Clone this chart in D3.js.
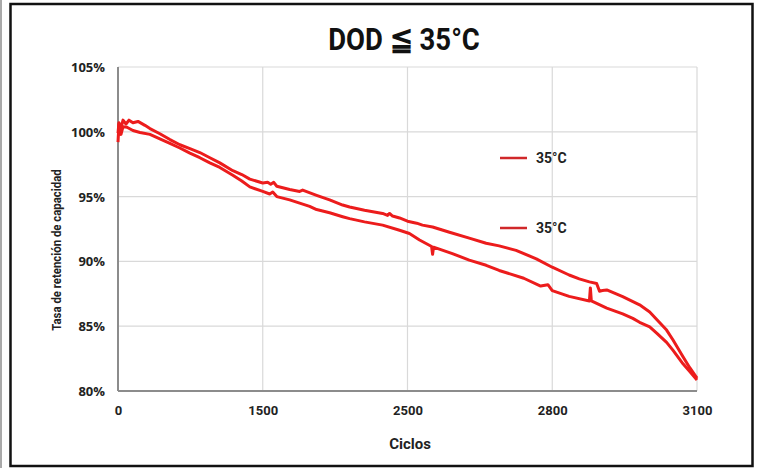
<!DOCTYPE html>
<html>
<head>
<meta charset="utf-8">
<script src="https://cdn.jsdelivr.net/npm/d3@7"></script>
<style>
  body { margin: 0; background: #fff; }
  svg { display: block; }
  .tick line { display: none; }
  .domain { display: none; }
</style>
</head>
<body>
<svg></svg>
<script>
var width = 757,
    height = 468;

var xTicks = [0, 1500, 2500, 2800, 3100];
var yTicks = [80, 85, 90, 95, 100, 105];
var legendLabels = ["35°C", "35°C"];

// cycles, capacity retention (%)
var upperCycles = [0, 10, 31, 52, 83, 114, 155, 207, 279, 331, 434, 538, 641, 745, 848, 952, 1055, 1190, 1283, 1366,
    1500, 1534, 1555, 1576, 1597, 1686, 1755, 1776, 1872, 1962, 2052, 2100, 2203, 2328, 2362, 2376, 2397, 2445,
    2500, 2519, 2531, 2552, 2587, 2628, 2663, 2690, 2725, 2767,
    2800, 2835, 2856, 2877, 2892, 2898, 2904, 2913, 2946, 2981, 3002, 3017, 3037, 3050, 3071, 3085, 3100];
var upperValues = [99.9, 100.7, 100.3, 100.9, 100.6, 100.9, 100.7, 100.8, 100.5, 100.25, 99.85, 99.4, 99.0, 98.7, 98.4, 98.0, 97.6, 97.0, 96.7, 96.35,
    96.05, 96.1, 95.95, 96.1, 95.8, 95.55, 95.4, 95.5, 95.1, 94.75, 94.35, 94.2, 93.95, 93.7, 93.55, 93.7, 93.5, 93.35,
    93.1, 92.95, 92.8, 92.65, 92.25, 91.8, 91.4, 91.2, 90.85, 90.2,
    89.55, 88.95, 88.65, 88.42, 88.3, 87.7, 87.75, 87.8, 87.28, 86.65, 86.1, 85.5, 84.7, 83.95, 82.65, 81.8, 81.0];

var lowerCycles = [0, 10, 31, 52, 93, 155, 228, 331, 434, 538, 641, 745, 848, 952, 1055, 1190, 1283, 1366,
    1500, 1548, 1569, 1597, 1686, 1755, 1824, 1872, 1962, 2052, 2100, 2203, 2328, 2445,
    2504, 2525, 2550, 2552, 2554, 2593, 2628, 2663, 2690, 2741, 2776, 2791,
    2800, 2835, 2877, 2879, 2881, 2913, 2946, 2967, 2981, 3002, 3017, 3037, 3050, 3071, 3085, 3100];
var lowerValues = [99.2, 100.6, 99.8, 100.4, 100.35, 100.1, 99.95, 99.8, 99.45, 99.1, 98.75, 98.35, 98.0, 97.6, 97.25, 96.65, 96.2, 95.75,
    95.4, 95.2, 95.35, 95.0, 94.75, 94.5, 94.25, 94.0, 93.75, 93.45, 93.3, 93.05, 92.8, 92.4,
    92.15, 91.65, 91.15, 90.55, 91.1, 90.6, 90.1, 89.7, 89.3, 88.7, 88.1, 88.2,
    87.75, 87.3, 86.95, 87.95, 86.95, 86.4, 85.95, 85.6, 85.3, 84.95, 84.45, 83.75, 83.15, 82.1, 81.5, 80.85];

var margin = { left: 118, right: 60, top: 67, bottom: 77 };
var plotW = width - margin.left - margin.right,
    plotH = height - margin.top - margin.bottom;

var svg = d3.select("svg")
    .attr("width", width)
    .attr("height", height);

// outer frame
svg.append("line")
    .attr("x1", 1).attr("x2", 1).attr("y1", 0).attr("y2", height)
    .attr("stroke", "#555").attr("stroke-width", 1);
svg.append("rect")
    .attr("x", 10.5).attr("y", 4)
    .attr("width", 742).attr("height", 462)
    .attr("fill", "none")
    .attr("stroke", "#111")
    .attr("stroke-width", 2.5);

// ticks are evenly spaced on the picture, so the x scale is piecewise
var x = d3.scaleLinear()
    .domain(xTicks)
    .range(xTicks.map((d, i) => margin.left + i * plotW / (xTicks.length - 1)));

var y = d3.scaleLinear()
    .domain([80, 105])
    .range([margin.top + plotH, margin.top]);

// grid
svg.append("g")
    .selectAll("line")
    .data(yTicks)
    .enter().append("line")
    .attr("x1", margin.left).attr("x2", margin.left + plotW)
    .attr("y1", d => y(d)).attr("y2", d => y(d))
    .attr("stroke", "#d9d9d9").attr("stroke-width", 1.2);

svg.append("g")
    .selectAll("line")
    .data(xTicks.slice(1))
    .enter().append("line")
    .attr("x1", d => x(d)).attr("x2", d => x(d))
    .attr("y1", margin.top).attr("y2", margin.top + plotH)
    .attr("stroke", "#d9d9d9").attr("stroke-width", 1.2);

// axis lines
svg.append("line")
    .attr("x1", margin.left).attr("x2", margin.left)
    .attr("y1", margin.top).attr("y2", margin.top + plotH)
    .attr("stroke", "#8c8c8c").attr("stroke-width", 2);
svg.append("line")
    .attr("x1", margin.left).attr("x2", margin.left + plotW)
    .attr("y1", margin.top + plotH).attr("y2", margin.top + plotH)
    .attr("stroke", "#8c8c8c").attr("stroke-width", 2);

// y axis labels
svg.append("g")
    .attr("transform", "translate(" + (margin.left - 10) + ",0)")
    .call(d3.axisLeft(y).tickValues(yTicks).tickSize(0).tickFormat(d => d + "%"))
    .call(g => g.selectAll("text")
        .attr("font-family", "'Open Sans', sans-serif")
        .attr("font-weight", "bold")
        .attr("font-size", 13)
        .attr("fill", "#222")
        .attr("dy", "0.35em"));

// x axis labels
svg.append("g")
    .attr("transform", "translate(0," + (margin.top + plotH + 12) + ")")
    .call(d3.axisBottom(x).tickValues(xTicks).tickSize(0).tickFormat(d3.format("d")))
    .call(g => g.selectAll("text")
        .attr("font-family", "Roboto, sans-serif")
        .attr("font-weight", "bold")
        .attr("font-size", 13)
        .attr("fill", "#222"));

// titles (condensed look by squeezing horizontally)
svg.append("text")
    .attr("transform", "translate(404,50) scale(0.86,1)")
    .attr("text-anchor", "middle")
    .attr("font-family", "Roboto, sans-serif")
    .attr("font-weight", "bold")
    .attr("font-size", 32)
    .attr("fill", "#111")
    .text("DOD ≦ 35°C");

svg.append("text")
    .attr("x", 410).attr("y", 449)
    .attr("text-anchor", "middle")
    .attr("font-family", "Roboto, sans-serif")
    .attr("font-weight", "bold")
    .attr("font-size", 15)
    .attr("fill", "#222")
    .text("Ciclos");

svg.append("text")
    .attr("transform", "translate(61,250) rotate(-90) scale(0.95,1)")
    .attr("text-anchor", "middle")
    .attr("font-family", "Roboto, sans-serif")
    .attr("font-weight", "bold")
    .attr("font-size", 12)
    .attr("fill", "#222")
    .text("Tasa de retención de capacidad");

// series
var line = d3.line()
    .x(d => x(d[0]))
    .y(d => y(d[1]));

var series = [
    d3.zip(upperCycles, upperValues),
    d3.zip(lowerCycles, lowerValues)
];

svg.append("g")
    .selectAll("path")
    .data(series)
    .enter().append("path")
    .attr("d", line)
    .attr("fill", "none")
    .attr("stroke", "#ec1c1c")
    .attr("stroke-width", 3)
    .attr("stroke-linejoin", "round");

// legend
var legend = svg.append("g")
    .selectAll("g")
    .data(legendLabels)
    .enter().append("g")
    .attr("transform", (d, i) => "translate(500," + (158 + i * 70) + ")");

legend.append("line")
    .attr("x1", 0).attr("x2", 27)
    .attr("stroke", "#d0282a").attr("stroke-width", 2.5);

legend.append("text")
    .attr("x", 36).attr("dy", "0.35em")
    .attr("font-family", "Roboto, sans-serif")
    .attr("font-weight", "bold")
    .attr("font-size", 14)
    .attr("fill", "#222")
    .text(d => d);
</script>
</body>
</html>
